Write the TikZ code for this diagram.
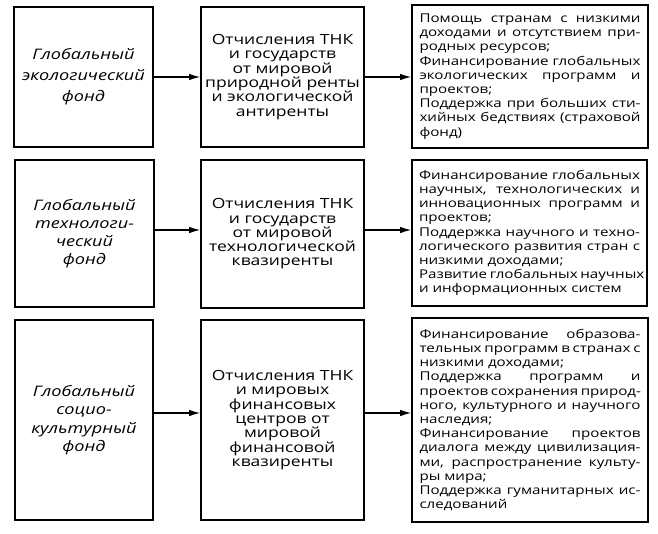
\documentclass[tikz,border=0pt]{standalone}
\usepackage{fontspec}
\setmainfont[FakeStretch=1.25]{Open Sans}
\usetikzlibrary{arrows.meta}
\newcommand\jline[1]{\hbox to \linewidth{#1}}
\newcommand\lline[1]{\hbox to \linewidth{#1\hfil}}
\newcommand\rfont{\fontsize{12.1}{14.2}\selectfont}
\begin{document}
\begin{tikzpicture}[x=1pt,y=-1pt,
  box/.style={draw, line width=1.6pt, inner sep=0pt},
  lbox/.style={box, minimum width=139pt, align=center},
  mbox/.style={box, minimum width=163pt, align=center, font=\fontsize{14}{14.3}\selectfont},
  rbox/.style={box, minimum width=236pt},
  arr/.style={line width=1.3pt, -{Latex[length=11pt,width=6.5pt]}}]
\useasboundingbox (0,0) rectangle (658,533);
% row 1
\node[lbox, minimum height=140pt, font=\itshape\fontsize{14.5}{21}\selectfont] (L1) at (83.5,77) {Глобальный\\экологический\\фонд};
\node[mbox, minimum height=140pt] (M1) at (282.5,77) {Отчисления ТНК\\и государств\\от мировой\\природной ренты\\и экологической\\антиренты};
\node[rbox, minimum height=143pt] (R1) at (530,76.5) {\begin{minipage}{221pt}\rfont
\jline{Помощь странам с низкими}
\jline{доходами и отсутствием при-}
\lline{родных ресурсов;}
\jline{Финансирование глобальных}
\jline{экологических программ и}
\lline{проектов;}
\jline{Поддержка при больших сти-}
\jline{хийных бедствиях (страховой}
\lline{фонд)}
\end{minipage}};
% row 2
\node[lbox, minimum height=147pt, font=\itshape\fontsize{14.5}{18}\selectfont] (L2) at (84.5,233.5) {Глобальный\\технологи-\\ческий\\фонд};
\node[mbox, minimum height=148pt] (M2) at (282.5,234) {Отчисления ТНК\\и государств\\от мировой\\технологической\\квазиренты};
\node[rbox, minimum height=146pt, minimum width=235pt] (R2) at (529.5,233) {\begin{minipage}{221pt}\rfont
\jline{Финансирование глобальных}
\jline{научных, технологических и}
\jline{инновационных программ и}
\lline{проектов;}
\jline{Поддержка научного и техно-}
\jline{логического развития стран с}
\lline{низкими доходами;}
\jline{Развитие глобальных научных}
\lline{и информационных систем}
\end{minipage}};
% row 3
\node[lbox, minimum height=200pt, minimum width=138pt, font=\itshape\fontsize{14.5}{18.5}\selectfont] (L3) at (84,420) {Глобальный\\социо-\\культурный\\фонд};
\node[mbox, minimum height=200pt] (M3) at (282.5,420) {Отчисления ТНК\\и мировых\\финансовых\\центров от\\мировой\\финансовой\\квазиренты};
\node[rbox, minimum height=204pt] (R3) at (530,420) {\begin{minipage}{221pt}\rfont
\jline{Финансирование образова-}
\jline{тельных программ в странах с}
\lline{низкими доходами;}
\jline{Поддержка программ и}
\jline{проектов сохранения природ-}
\jline{ного, культурного и научного}
\lline{наследия;}
\jline{Финансирование проектов}
\jline{диалога между цивилизация-}
\jline{ми, распространение культу-}
\lline{ры мира;}
\jline{Поддержка гуманитарных ис-}
\lline{следований}
\end{minipage}};
% arrows
\coordinate (y1) at (0,77);
\coordinate (y2) at (0,230);
\coordinate (y3) at (0,413);
\draw[arr] (L1.east |- y1) -- (M1.west |- y1);
\draw[arr] (M1.east |- y1) -- (R1.west |- y1);
\draw[arr] (L2.east |- y2) -- (M2.west |- y2);
\draw[arr] (M2.east |- y2) -- (R2.west |- y2);
\draw[arr] (L3.east |- y3) -- (M3.west |- y3);
\draw[arr] (M3.east |- y3) -- (R3.west |- y3);
\end{tikzpicture}
\end{document}
